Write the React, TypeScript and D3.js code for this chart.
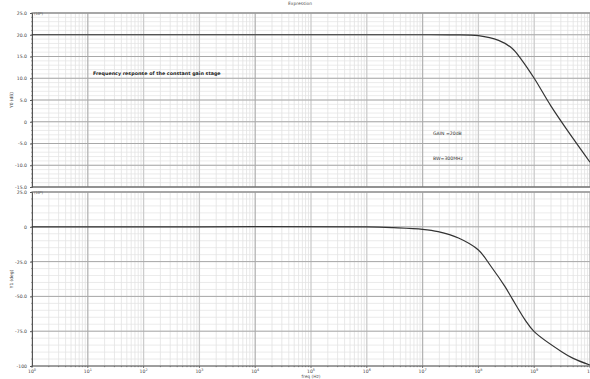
import React, { useEffect, useRef } from 'react';
import * as d3 from 'd3';

// magnitude (dB)
const gainFreq = [1, 1e3, 1e6, 1e7, 3e7, 1e8, 2.3e8, 4e8, 5.9e8, 1e9, 2e9, 5e9, 1e10];
const gainDb = [20, 20, 20, 20, 19.97, 19.8, 18.7, 16.9, 14.3, 10.0, 3.6, -3.9, -9.3];

// phase (deg)
const phaseFreq = [1, 1e3, 1e6, 3e6, 1e7, 1.9e7, 4.4e7, 1e8, 1.7e8, 3e8, 4e8, 6.9e8, 1e9, 3.1e9, 5e9, 1e10];
const phaseDeg = [0, 0, 0, -0.6, -1.8, -3.5, -8.1, -16.7, -28.7, -43, -51.4, -67, -75.3, -89.7, -94.5, -99.3];

const gainTicks = [25, 20, 15, 10, 5, 0, -5, -10, -15];
const gainTickLabels = ['25.0', '20.0', '15.0', '10.0', '5.0', '0', '-5.0', '-10.0', '-15.0'];
const phaseTicks = [25, 0, -25, -50, -75, -100];
const phaseTickLabels = ['25.0', '0', '-25.0', '-50.0', '-75.0', '-100'];
const decades = [0, 1, 2, 3, 4, 5, 6, 7, 8, 9, 10];

const W = 590;
const H = 379;
const left = 32;
const right = 590;

export default function App() {
  const ref = useRef<SVGSVGElement>(null);

  useEffect(() => {
    const svg = d3.select(ref.current);
    svg.selectAll('*').remove();
    const font = 'DejaVu Sans, sans-serif';

    const x = d3.scaleLog().domain([1, 1e10]).range([left, right]);
    const yTop = d3.scaleLinear().domain([-15, 25]).range([187, 13]);
    const yBot = d3.scaleLinear().domain([-100, 25]).range([366, 192]);

    const minorFreqs: number[] = [];
    for (let d = 0; d < 10; d++) for (let m = 2; m < 10; m++) minorFreqs.push(m * Math.pow(10, d));

    const panel = (y: d3.ScaleLinear<number, number>, ticks: number[], labels: string[], step: number,
      fx: number[], fy: number[], yLabel: string, showX: boolean) => {
      const g = svg.append('g');
      const [y0, y1] = y.range();
      const dom = y.domain();
      // minor horizontal
      const minors = d3.range(dom[0], dom[1] + 0.001, step);
      g.selectAll('.hm').data(minors).enter().append('line')
        .attr('x1', left).attr('x2', right).attr('y1', d => y(d)).attr('y2', d => y(d))
        .attr('stroke', '#e6e6e6').attr('stroke-width', 0.8);
      // minor vertical
      g.selectAll('.vm').data(minorFreqs).enter().append('line')
        .attr('x1', d => x(d)).attr('x2', d => x(d)).attr('y1', y0).attr('y2', y1)
        .attr('stroke', '#e2e2e2').attr('stroke-width', 0.8);
      // major vertical
      g.selectAll('.vM').data(decades).enter().append('line')
        .attr('x1', d => x(Math.pow(10, d))).attr('x2', d => x(Math.pow(10, d)))
        .attr('y1', y0).attr('y2', y1)
        .attr('stroke', d => (d % 3 === 1 ? '#b4b4b4' : '#cccccc')).attr('stroke-width', 1.3);
      // major horizontal
      g.selectAll('.hM').data(ticks).enter().append('line')
        .attr('x1', left).attr('x2', right).attr('y1', d => y(d)).attr('y2', d => y(d))
        .attr('stroke', '#a8a8a8').attr('stroke-width', 1);
      // top frame line
      g.append('line').attr('x1', left).attr('x2', right).attr('y1', y1).attr('y2', y1)
        .attr('stroke', '#9a9a9a').attr('stroke-width', 1.6);

      // left axis
      const ax = d3.axisLeft(y).tickValues(ticks).tickSize(2).tickFormat((_, i) => labels[i]);
      const axg = g.append('g').attr('transform', `translate(${left},0)`).call(ax);
      axg.select('.domain').attr('stroke', '#555');
      axg.selectAll('line').attr('stroke', '#555');
      axg.selectAll('text').attr('font-size', 4.6).attr('font-family', font).attr('fill', '#444');
      g.selectAll('.lt').data(minors).enter().append('line')
        .attr('x1', left - 1).attr('x2', left).attr('y1', d => y(d)).attr('y2', d => y(d))
        .attr('stroke', '#666').attr('stroke-width', 0.6);

      g.append('text').attr('x', left + 2).attr('y', y1 + 1.5).attr('font-size', 3.6)
        .attr('font-family', font).attr('fill', '#555').text('(10⁰)');

      g.append('text').attr('transform', `translate(13,${(y0 + y1) / 2}) rotate(-90)`)
        .attr('text-anchor', 'middle').attr('font-size', 4.4).attr('font-family', font)
        .attr('fill', '#444').text(yLabel);

      // curve
      const line = d3.line<number>().x((_, i) => x(fx[i])).y(d => y(d)).curve(d3.curveCatmullRom.alpha(0.5));
      g.append('path').datum(fy).attr('d', line).attr('fill', 'none')
        .attr('stroke', '#333').attr('stroke-width', 1.2);

      if (showX) {
        g.append('line').attr('x1', left).attr('x2', right).attr('y1', y0).attr('y2', y0)
          .attr('stroke', '#555').attr('stroke-width', 0.8);
        g.selectAll('.xt').data(minorFreqs).enter().append('line')
          .attr('x1', d => x(d)).attr('x2', d => x(d)).attr('y1', y0).attr('y2', y0 + 1.2)
          .attr('stroke', '#555').attr('stroke-width', 0.6);
        const lab = g.selectAll('.xl').data(decades).enter().append('text')
          .attr('x', d => x(Math.pow(10, d))).attr('y', y0 + 7)
          .attr('text-anchor', d => (d === 10 ? 'end' : 'middle'))
          .attr('font-size', 4.6).attr('font-family', font).attr('fill', '#444');
        lab.append('tspan').text(d => (d === 10 ? '1' : '10'));
        lab.append('tspan').attr('dy', -2).attr('font-size', 3.4).text(d => (d === 10 ? '' : String(d)));
        g.selectAll('.xM').data(decades).enter().append('line')
          .attr('x1', d => x(Math.pow(10, d))).attr('x2', d => x(Math.pow(10, d)))
          .attr('y1', y0).attr('y2', y0 + 2).attr('stroke', '#555').attr('stroke-width', 0.8);
      }
    };

    panel(yTop, gainTicks, gainTickLabels, 1, gainFreq, gainDb, 'Y0 (dB)', false);
    // separator under top panel
    svg.append('line').attr('x1', left).attr('x2', right).attr('y1', 187).attr('y2', 187)
      .attr('stroke', '#555').attr('stroke-width', 1);
    panel(yBot, phaseTicks, phaseTickLabels, 5, phaseFreq, phaseDeg, 'Y1 (deg)', true);

    svg.append('text').attr('x', 300).attr('y', 4.5).attr('text-anchor', 'middle')
      .attr('font-size', 4.4).attr('font-family', font).attr('fill', '#555').text('Expression');
    svg.append('text').attr('x', 311).attr('y', 378).attr('text-anchor', 'middle')
      .attr('font-size', 4.4).attr('font-family', font).attr('fill', '#555').text('freq (Hz)');

    svg.append('text').attr('x', 93).attr('y', 74.5).attr('font-size', 4.8).attr('font-weight', 'bold')
      .attr('font-family', font).attr('fill', '#222').text('Frequency response of the constant gain stage');
    svg.append('text').attr('x', 433).attr('y', 135).attr('font-size', 4.6)
      .attr('font-family', font).attr('fill', '#333').text('GAIN =20dB');
    svg.append('text').attr('x', 433).attr('y', 159.5).attr('font-size', 4.6)
      .attr('font-family', font).attr('fill', '#333').text('BW=300MHz');
  }, []);

  return (
    <div>
      <svg ref={ref} width={W} height={H}
        style={{ position: 'absolute', left: 0, top: 0, background: '#fff' }} />
    </div>
  );
}
